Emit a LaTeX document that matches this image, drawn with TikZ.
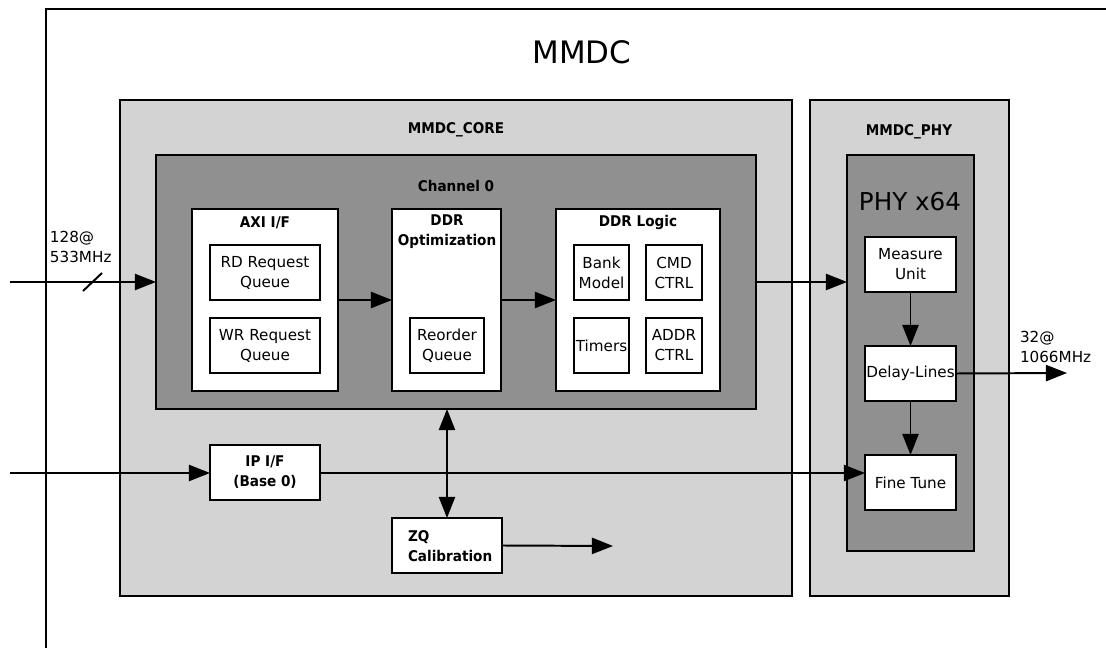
\documentclass[tikz,border=0pt]{standalone}
\usepackage{fontspec}
\setmainfont{DejaVu Sans}
\newfontfamily\condbold[FakeStretch=0.92]{DejaVu Sans Bold}
\usetikzlibrary{arrows.meta,fit}
\definecolor{lightg}{HTML}{D3D3D3}
\definecolor{darkg}{HTML}{909090}
\newcommand\normtxt{\fontsize{10.8}{14.2}\selectfont}
\newcommand\boldtxt{\fontsize{10.5}{14.2}\selectfont\condbold}
\begin{document}
\begin{tikzpicture}[x=0.025cm,y=-0.025cm,
  every node/.style={inner sep=0pt, outer sep=0pt},
  ln/.style={line width=1.4pt},
  sz/.style 2 args={minimum width=#1*0.025cm, minimum height=#2*0.025cm},
  corebox/.style={draw, line width=1.4pt, fill=lightg},
  chanbox/.style={draw, line width=1.4pt, fill=darkg},
  wbox/.style={draw, line width=1.4pt, fill=white, align=center, font=\normtxt},
  bbox/.style={draw, line width=1.4pt, fill=white, align=center, font=\boldtxt},
  ttl/.style={font=\boldtxt, align=center},
  arr/.style={line width=1.4pt, -{Triangle[length=15pt,width=11.5pt]}},
  darr/.style={line width=1.4pt, {Triangle[length=15pt,width=11.5pt]}-{Triangle[length=15pt,width=11.5pt]}}
]
\useasboundingbox (0,0) rectangle (1106,648);
% outer MMDC frame (clipped by the page)
\draw[ln] (1106,9) -- (46,9) -- (46,648);
\node[font=\fontsize{22}{26}\selectfont] (mmdc) at (582,52) {MMDC};

% containers
\node[corebox, fit={(120,100) (792,596)}] (core) {};
\node[corebox, fit={(810,100) (1009,596)}] (phyc) {};
\node[ttl] (coret) at (456,130) {MMDC\_CORE};
\node[ttl] (phyct) at (909,132) {MMDC\_PHY};

\node[chanbox, fit={(156,155) (756,409)}] (chan) {};
\node[ttl] (chant) at (456,186) {Channel 0};
\node[chanbox, fit={(847,155) (974,551)}] (phy) {};
\node[font=\fontsize{17.5}{20}\selectfont] (phyt) at (910,202) {PHY x64};

% AXI I/F
\node[draw, ln, fill=white, fit={(192,209) (338,391)}] (axi) {};
\node[ttl] (axit) at (265,223) {AXI I/F};
\node[wbox, sz={110}{55}] (rd) at (265,272.5) {RD Request\\Queue};
\node[wbox, sz={110}{55}] (wr) at (265,345.5) {WR Request\\Queue};

% DDR Optimization
\node[draw, ln, fill=white, fit={(392,209) (501,391)}] (opt) {};
\node[ttl] (optt) at (447,232) {DDR\\Optimization};
\node[wbox, sz={74}{55}] (reord) at (447,345.5) {Reorder\\Queue};

% DDR Logic
\node[draw, ln, fill=white, fit={(556,209) (720,391)}] (logic) {};
\node[ttl] (logict) at (638,222) {DDR Logic};
\node[wbox, sz={55}{55}] (bank) at (601.5,272.5) {Bank\\Model};
\node[wbox, sz={56}{55}] (cmd) at (674,272.5) {CMD\\CTRL};
\node[wbox, sz={55}{55}] (timers) at (601.5,345.5) {Timers};
\node[wbox, sz={56}{55}] (addr) at (674,345.5) {ADDR\\CTRL};

% PHY blocks
\node[wbox, sz={91}{55}] (meas) at (910.5,264.5) {Measure\\Unit};
\node[wbox, sz={91}{55}] (delay) at (910.5,373.5) {Delay-Lines};
\node[wbox, sz={91}{55}] (fine) at (910.5,482.5) {Fine Tune};

% IP I/F and ZQ
\node[bbox, sz={110}{55}] (ipif) at (265,472.5) {IP I/F\\(Base 0)};
\node[draw, ln, fill=white, sz={110}{55}] (zq) at (447,545.5) {};
\node[font=\boldtxt, align=left, anchor=west] (zqt) at (408,546) {ZQ\\Calibration};

% external labels
\node[font=\normtxt, align=left, anchor=west] (inlbl) at (50,247) {128@\\533MHz};
\node[font=\normtxt, align=left, anchor=west] (outlbl) at (1020,347) {32@\\1066MHz};

% connectors
\coordinate (in1) at (10,282);
\coordinate (in2) at (10,473);
\coordinate (zqout) at (613,546);
\coordinate (ddrout) at (1067,373);
\draw[arr] (in1) -- (chan.west);
\draw[ln] (83,291) -- (102,273);
\draw[arr] (axi.east) -- (opt.west);
\draw[arr] (opt.east) -- (logic.west);
\draw[arr] (chan.east |- in1) -- (phy.west |- in1);
\draw[arr] (in2) -- (ipif.west |- in2);
\draw[arr] (ipif.east |- in2) -- (fine.west |- in2);
\draw[darr] (zq.north |- chan.south) -- (zq.north);
\draw[arr] (zq.east) -- (zqout);
\draw[arr] (meas.south) -- (delay.north);
\draw[arr] (delay.south) -- (fine.north);
\draw[arr] (delay.east) -- (ddrout);
\end{tikzpicture}
\end{document}
